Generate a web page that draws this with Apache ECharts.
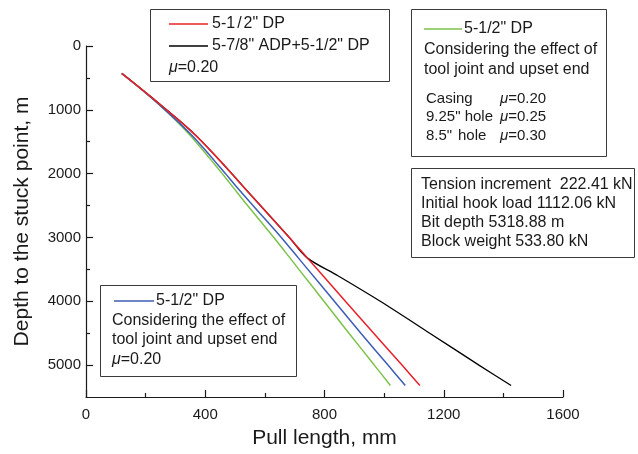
<!DOCTYPE html>
<html>
<head>
<meta charset="utf-8">
<script src="https://cdn.jsdelivr.net/npm/echarts@6/dist/echarts.min.js"></script>
<style>
html,body{margin:0;padding:0;background:#fff;}
#chart{width:638px;height:454px;}
</style>
</head>
<body>
<div id="chart"></div>
<script>
// ---- data ----
const depth = [430,600,800,1000,1200,1400,1600,1800,2000,2200,2500,3000,3320,3500,4000,4500,5000,5319];
const pullRed   = [120,166,219,270,321,368,410,450,489,527,585,682,742,776,870,965,1060,1120];
const pullBlue  = [120,165,216,265,312,355,394,431,468,504,560,655,712,744,833,922,1013,1071];
const pullGreen = [120,165,216,264,308,349,386,422,457,491,542,630,684,714,798,882,967,1021];
const depthBlack = [430,600,800,1000,1200,1400,1600,1800,2000,2200,2500,3000,3320,3600,4000,4500,5000,5319];
const pullBlack  = [120,166,219,270,321,368,410,450,489,527,585,682,742,845,987,1153,1318,1426];
const xTicks = [0,400,800,1200,1600];
const yTicks = [0,1000,2000,3000,4000,5000];
const yMinorTicks = [500,1500,2500,3500,4500];

const FONT = "'Liberation Sans', Arial, sans-serif";
function pairs(xs, ys){ return xs.map((x,i)=>[x, ys[i]]); }

const chart = echarts.init(document.getElementById('chart'), null, {renderer:'canvas'});

function richFor(sz){
  return {
    i:{fontStyle:'italic', fontSize:sz, fontFamily:FONT, fill:'#1a1a1a'},
    n:{fontSize:sz, fontFamily:FONT, fill:'#1a1a1a'},
    s:{fontSize:sz, fontFamily:FONT, fill:'#1a1a1a', padding:[0,2,0,2]}
  };
}
function txt(x, y, s, sz){
  sz = sz || 16;
  return {type:'text', z:100, style:{
    x:x, y:y, text:s, fill:'#1a1a1a', font:sz + 'px ' + FONT, verticalAlign:'middle', align:'left', rich:richFor(sz)
  }};
}
function box(x,y,w,h){ return {type:'rect', z:90, shape:{x:x,y:y,width:w,height:h}, style:{fill:'transparent', stroke:'#3a3a3a', lineWidth:1}}; }
function seg(x1,x2,y,c){ return {type:'line', z:95, shape:{x1:x1,y1:y,x2:x2,y2:y}, style:{stroke:c, lineWidth:1.5}}; }

const RED='#e8202a', BLACK='#000000', GREEN='#7cc24a', BLUE='#3d5cb4';
const fmt = v => String(v);

const option = {
  animation:false,
  backgroundColor:'#fff',
  grid:{left:86, top:46, width:477, height:353, containLabel:false},
  xAxis:{
    type:'value', min:0, max:1600, interval:400,
    name:'Pull length, mm', nameLocation:'middle', nameGap:31,
    nameTextStyle:{fontSize:21, fontFamily:FONT, color:'#1a1a1a'},
    axisLine:{show:true, onZero:false, lineStyle:{color:'#1a1a1a', width:1.2}},
    axisTick:{show:true, inside:true, length:7, lineStyle:{color:'#1a1a1a', width:1.2}},
    minorTick:{show:true, splitNumber:2, length:4, lineStyle:{color:'#1a1a1a', width:1.2}},
    axisLabel:{fontSize:15, fontFamily:FONT, color:'#1a1a1a', margin:10, formatter:fmt},
    splitLine:{show:false}, minorSplitLine:{show:false}
  },
  yAxis:[{
    type:'value', min:0, max:5500, inverse:true, position:'left',
    name:'Depth to the stuck point, m', nameLocation:'middle', nameGap:53, nameRotate:90,
    nameTextStyle:{fontSize:21, fontFamily:FONT, color:'#1a1a1a'},
    axisLine:{show:true, onZero:false, lineStyle:{color:'#1a1a1a', width:1.2}},
    axisTick:{show:true, inside:true, length:7, customValues:yTicks, lineStyle:{color:'#1a1a1a', width:1.2}},
    axisLabel:{fontSize:15, fontFamily:FONT, color:'#1a1a1a', margin:5, customValues:yTicks, formatter:fmt},
    splitLine:{show:false}
  },{
    type:'value', min:0, max:5500, inverse:true, position:'left',
    axisLine:{show:false, onZero:false},
    axisTick:{show:true, inside:true, length:4, customValues:yMinorTicks, lineStyle:{color:'#1a1a1a', width:1.2}},
    axisLabel:{show:false},
    splitLine:{show:false}
  }],
  series:[
    {type:'line', name:'black', data:pairs(pullBlack, depthBlack), showSymbol:false, symbol:'none', smooth:0.3, lineStyle:{color:BLACK, width:1.3}, z:2},
    {type:'line', name:'green', data:pairs(pullGreen, depth), showSymbol:false, symbol:'none', smooth:0.3, lineStyle:{color:GREEN, width:1.5}, z:3},
    {type:'line', name:'blue', data:pairs(pullBlue, depth), showSymbol:false, symbol:'none', smooth:0.3, lineStyle:{color:BLUE, width:1.5}, z:4},
    {type:'line', name:'red', data:pairs(pullRed, depth), showSymbol:false, symbol:'none', smooth:0.3, lineStyle:{color:RED, width:1.5}, z:5}
  ],
  graphic:[
    // box 1
    box(150.5, 9.5, 239, 72),
    seg(169, 208, 24, RED), txt(212, 24, '{n|5-1}{s|/}{n|2" DP}'),
    seg(169, 208, 46, BLACK), txt(212, 46, '5-7/8" ADP+5-1/2" DP'),
    txt(169, 68, '{i|\u03bc}{n|=0.20}'),
    // box 2
    box(411.5, 9.5, 195, 147),
    seg(424, 462, 29, GREEN), txt(464, 29, '5-1/2" DP'),
    txt(424, 50, 'Considering the effect of'),
    txt(424, 70, 'tool joint and upset end'),
    txt(426, 99, 'Casing', 15), txt(500, 99, '{i|\u03bc}{n|=0.20}', 15),
    txt(426, 117, '9.25" hole', 15), txt(500, 117, '{i|\u03bc}{n|=0.25}', 15),
    txt(426, 136, '8.5"', 15), txt(458, 136, 'hole', 15), txt(500, 136, '{i|\u03bc}{n|=0.30}', 15),
    // box 3
    box(411.5, 168.5, 223, 89),
    txt(421, 185, 'Tension increment  222.41 kN'),
    txt(421, 204, 'Initial hook load 1112.06 kN'),
    txt(421, 223, 'Bit depth 5318.88 m'),
    txt(421, 242, 'Block weight 533.80 kN'),
    // box 4
    box(100.5, 285.5, 196, 91),
    seg(114, 154, 301, BLUE), txt(156, 301, '5-1/2" DP'),
    txt(112, 321, 'Considering the effect of'),
    txt(112, 340, 'tool joint and upset end'),
    txt(112, 360, '{i|\u03bc}{n|=0.20}')
  ]
};
chart.setOption(option);
</script>
</body>
</html>
